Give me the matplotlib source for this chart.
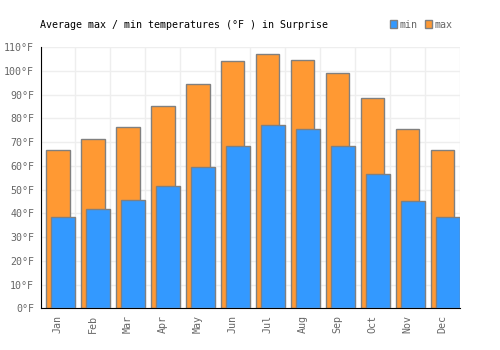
import matplotlib
matplotlib.use("Agg")
import matplotlib.pyplot as plt
from matplotlib.patches import Patch
import numpy as np

months = ["Jan", "Feb", "Mar", "Apr", "May", "Jun", "Jul", "Aug", "Sep", "Oct", "Nov", "Dec"]
max_f = [66.6, 71.5, 76.3, 85.1, 94.4, 104.1, 107.0, 104.5, 99.0, 88.5, 75.4, 66.6]
min_f = [38.3, 41.7, 45.5, 51.4, 59.4, 68.3, 77.1, 75.4, 68.3, 56.5, 45.1, 38.3]
yticks = list(range(0, 111, 10))

plt.rcParams['font.family'] = ['DejaVu Sans Mono']

fig = plt.figure(figsize=(5, 3.5), dpi=100)
ax = fig.add_axes([0.081, 0.119, 0.839, 0.746])

x = np.arange(len(months))
blue = "#3399ff"
orange = "#ff9933"
edge = "#808080"
fs = 7.2

ax.bar(x - 0.5 + 0.165, max_f, width=0.67, align='edge', color=orange,
       edgecolor=edge, linewidth=1, zorder=2)
ax.bar(x - 0.5 + 0.31, min_f, width=0.69, align='edge', color=blue,
       edgecolor=edge, linewidth=1, zorder=3)

ax.set_xlim(-0.5, 11.5)
ax.set_ylim(0, 110)
ax.set_yticks(yticks)
ax.set_yticklabels([f"{v}°F" for v in yticks])
ax.set_xticks(x)
ax.set_xticklabels(months, rotation=90)
ax.set_xticks(np.arange(-0.5, 12, 1), minor=True)

ax.grid(False)
ax.yaxis.grid(True, color="#eeeeee", linewidth=1, zorder=0)
ax.xaxis.grid(True, which='minor', color="#eeeeee", linewidth=1, zorder=0)
ax.set_axisbelow(True)

for s in ["top", "right"]:
    ax.spines[s].set_visible(False)
ax.spines["left"].set_color("black")
ax.spines["bottom"].set_color("black")

ax.tick_params(axis='both', which='major', length=0, labelsize=fs, colors="#666666", pad=4.5)
ax.tick_params(axis='x', which='minor', length=0)

fig.text(0.08, 0.93, "Average max / min temperatures (°F ) in Surprise", fontsize=fs,
         color="black", ha="left", va="center")

handles = [Patch(facecolor=blue, edgecolor=edge, label="min"),
           Patch(facecolor=orange, edgecolor=edge, label="max")]
leg = fig.legend(handles=handles, loc="center right", bbox_to_anchor=(0.905, 0.93),
                 ncol=2, frameon=False, fontsize=fs, handlelength=0.75, handleheight=0.75,
                 handletextpad=0.25, columnspacing=0.7, borderaxespad=0, borderpad=0)
for t in leg.get_texts():
    t.set_color("#666666")

fig.savefig("out.png", dpi=100)
